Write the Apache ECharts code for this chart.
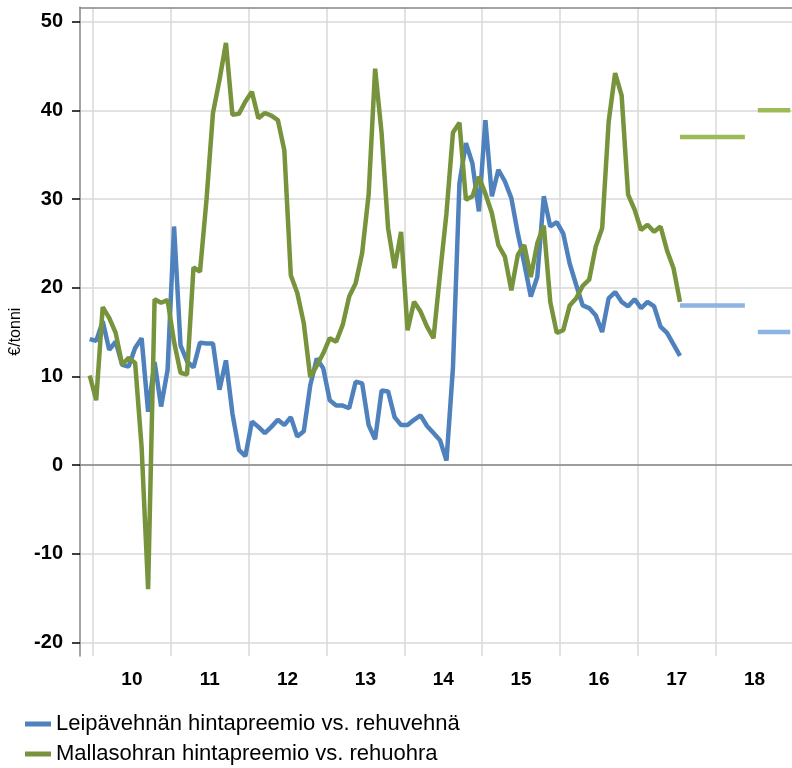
<!DOCTYPE html>
<html>
<head>
<meta charset="utf-8">
<script src="https://cdn.jsdelivr.net/npm/echarts@6/dist/echarts.min.js"></script>
<style>
html,body{margin:0;padding:0;background:#fff;}
#chart{width:792px;height:768px;}
</style>
</head>
<body>
<div id="chart"></div>
<script>
// ---- data ----
const axisStartMonth = '2009-11';
const axisEndMonth = '2018-12';
const dataStartMonth = '2009-12';
const yearLabels = ['10', '11', '12', '13', '14', '15', '16', '17', '18'];
const yTicks = [-20, -10, 0, 10, 20, 30, 40, 50];

const breadWheatName = 'Leipävehnän hintapreemio vs. rehuvehnä';
const maltBarleyName = 'Mallasohran hintapreemio vs. rehuohra';

// monthly values Dec 2009 - Jul 2017
const breadWheatPremium = [
  14.2, 14.0, 16.2, 13.0, 13.9, 11.3, 11.1, 13.2, 14.3, 6.0, 11.6, 6.6, 10.7, 26.9,
  13.5, 11.7, 11.0, 13.8, 13.7, 13.7, 8.5, 11.8, 5.8, 1.7, 1.0, 4.9, 4.3, 3.6,
  4.3, 5.1, 4.5, 5.4, 3.2, 3.8, 9.0, 12.0, 10.9, 7.3, 6.7, 6.7, 6.4, 9.4,
  9.2, 4.5, 2.9, 8.4, 8.3, 5.4, 4.5, 4.5, 5.1, 5.6, 4.4, 3.6, 2.8, 0.5,
  11.0, 31.8, 36.3, 34.0, 28.6, 38.9, 30.3, 33.3, 32.0, 30.1, 26.1, 22.7, 19.0, 21.2,
  30.3, 26.9, 27.4, 26.1, 22.7, 20.3, 18.0, 17.7, 16.9, 15.0, 18.8, 19.5, 18.4, 17.9,
  18.7, 17.7, 18.4, 17.9, 15.6, 14.9, 13.6, 12.3
];
const maltBarleyPremium = [
  10.1, 7.3, 17.8, 16.6, 14.9, 11.3, 12.1, 11.5, 2.0, -14.0, 18.7, 18.3, 18.6, 13.9,
  10.4, 10.2, 22.3, 21.8, 29.9, 39.7, 43.4, 47.6, 39.5, 39.6, 41.0, 42.1, 39.1, 39.7,
  39.4, 38.9, 35.5, 21.4, 19.4, 16.0, 9.9, 11.2, 12.6, 14.3, 13.9, 15.8, 19.0, 20.5,
  23.9, 30.5, 44.7, 37.4, 26.7, 22.2, 26.3, 15.2, 18.4, 17.3, 15.6, 14.3, 21.5, 28.4,
  37.5, 38.6, 29.9, 30.3, 32.5, 30.6, 28.4, 24.8, 23.5, 19.7, 23.7, 24.8, 21.2, 25.0,
  27.0, 18.4, 14.9, 15.2, 18.0, 18.8, 20.2, 20.9, 24.6, 26.7, 38.7, 44.2, 41.7, 30.5,
  28.8, 26.5, 27.1, 26.3, 26.9, 24.2, 22.2, 18.4
];

// forecast levels per period
const forecastPeriods = [['2017-07', '2018-05'], ['2018-07', '2018-12']];
const breadWheatForecast = [18, 15];
const maltBarleyForecast = [37, 40];

// ---- build ----
const categories = [];
(function () {
  let y = +axisStartMonth.slice(0, 4), m = +axisStartMonth.slice(5, 7);
  const ey = +axisEndMonth.slice(0, 4), em = +axisEndMonth.slice(5, 7);
  while (y < ey || (y === ey && m <= em)) {
    categories.push(y + '-' + String(m).padStart(2, '0'));
    m++; if (m > 12) { m = 1; y++; }
  }
})();

function placeSeries(values, start) {
  const out = categories.map(() => null);
  const s = categories.indexOf(start);
  values.forEach((v, i) => { out[s + i] = v; });
  return out;
}
function forecastSeries(levels) {
  const out = categories.map(() => null);
  forecastPeriods.forEach((p, k) => {
    const a = categories.indexOf(p[0]), b = categories.indexOf(p[1]);
    for (let i = a; i <= b; i++) out[i] = levels[k];
  });
  return out;
}
const isJan = (i) => categories[i].endsWith('-01');
const isJul = (i) => categories[i].endsWith('-07');

const FONT = 'Liberation Sans, Arial, sans-serif';
const chart = echarts.init(document.getElementById('chart'), null, {renderer: 'canvas'});

const lineSeries = (name, data, color, z) => ({
  name, type: 'line', data, showSymbol: false, symbol: 'none', z,
  lineStyle: {color, width: 4.5}, itemStyle: {color},
  emphasis: {disabled: true}, connectNulls: false
});

const legendCommon = {
  orient: 'vertical', left: 20,
  icon: 'rect', itemWidth: 26, itemHeight: 5,
  textStyle: {fontFamily: FONT, fontSize: 22, color: '#000'}
};

chart.setOption({
  animation: false,
  backgroundColor: '#ffffff',
  grid: {left: 80, right: -1.5, top: 7.3, bottom: 112, containLabel: false, outerBoundsMode: 'none'},
  legend: [
    Object.assign({data: [breadWheatName], top: 708}, legendCommon),
    Object.assign({data: [maltBarleyName], top: 738}, legendCommon)
  ],
  xAxis: [{
    type: 'category', data: categories, boundaryGap: true,
    axisLine: {lineStyle: {color: '#868686', width: 1.5}},
    axisTick: {interval: (i) => isJan(i), length: 8, lineStyle: {color: '#000', width: 1.5}},
    axisLabel: {
      interval: (i) => isJul(i),
      formatter: (v) => yearLabels[+v.slice(0, 4) - 2010],
      fontFamily: FONT, fontWeight: 'bold', fontSize: 19, color: '#000',
      margin: 14, padding: [0, 6.5, 0, 0]
    },
    splitLine: {show: true, interval: (i) => isJan(i), lineStyle: {color: '#D9D9D9', width: 1.5}}
  }, {
    type: 'category', data: categories, position: 'top', boundaryGap: true,
    axisLine: {show: true, lineStyle: {color: '#868686', width: 1.5}},
    axisTick: {show: false}, axisLabel: {show: false}, splitLine: {show: false}
  }],
  yAxis: {
    type: 'value', min: -21.54, max: 51.62, splitNumber: 7,
    axisLine: {show: true, lineStyle: {color: '#868686', width: 1.5}},
    axisTick: {show: true, customValues: yTicks, length: 8, lineStyle: {color: '#000', width: 1.5}},
    axisLabel: {customValues: yTicks, fontFamily: FONT, fontWeight: 'bold', fontSize: 20, color: '#000', margin: 17},
    splitLine: {show: true, lineStyle: {color: '#D9D9D9', width: 1.5}},
    name: '€/tonni', nameLocation: 'middle', nameGap: 49,
    nameTextStyle: {fontFamily: FONT, fontSize: 16, color: '#000'}
  },
  series: [
    lineSeries(breadWheatName, placeSeries(breadWheatPremium, dataStartMonth), '#4F81BD', 3),
    lineSeries(maltBarleyName, placeSeries(maltBarleyPremium, dataStartMonth), '#77933C', 4),
    lineSeries('Leipävehnä ennuste', forecastSeries(breadWheatForecast), '#8DB4E2', 2),
    lineSeries('Mallasohra ennuste', forecastSeries(maltBarleyForecast), '#9BBB59', 2)
  ]
});
</script>
</body>
</html>
